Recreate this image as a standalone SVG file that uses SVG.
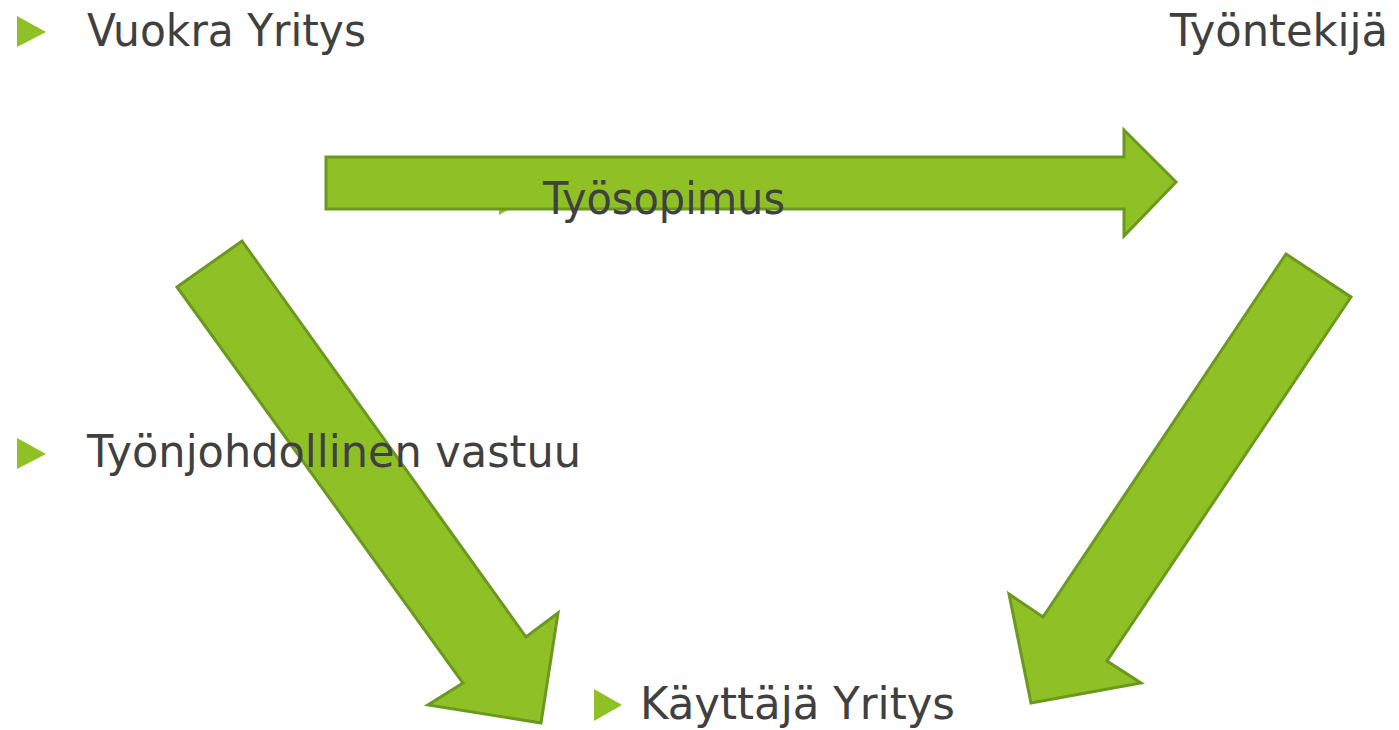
<svg xmlns="http://www.w3.org/2000/svg" width="1399" height="730" viewBox="0 0 1399 730">
<style>
.arrow{fill:#8fc026;stroke:#6b981e;stroke-width:3;stroke-linejoin:miter}
.bullet{fill:#8fc026}
.t{font-family:"DejaVu Sans","Liberation Sans",sans-serif;font-size:44px;fill:#404040}
</style>
<rect width="1399" height="730" fill="#ffffff"/>
<g id="bullet-tyosopimus"><polygon class="bullet" points="499,183 527,199 499,215"/></g>
<g id="connectors">
<polygon class="arrow" points="326,157 1124,157 1124,130 1176,182 1124,236 1124,209 326,209"/>
<polygon class="arrow" points="177,287 242,241 526,637 558,613 541,723 428,705 463,683"/>
<polygon class="arrow" points="1286,254 1351,297 1107,661 1141,683 1031,703 1009,594 1043,617"/>
</g>
<g id="node-vuokra">
<polygon class="bullet" points="17,16 46,32 17,47"/>
<text class="t" x="87" y="46" textLength="279" lengthAdjust="spacingAndGlyphs">Vuokra Yritys</text>
</g>
<g id="node-tyontekija">
<text class="t" x="1170" y="46" textLength="218" lengthAdjust="spacingAndGlyphs">Työntekijä</text>
</g>
<g id="label-tyosopimus">
<text class="t" x="543" y="214" textLength="242" lengthAdjust="spacingAndGlyphs">Työsopimus</text>
</g>
<g id="label-tyonjohdollinen">
<polygon class="bullet" points="17,438 46,454 17,469"/>
<text class="t" x="87" y="467" textLength="494" lengthAdjust="spacingAndGlyphs">Työnjohdollinen vastuu</text>
</g>
<g id="node-kayttaja">
<polygon class="bullet" points="594,689 622,705 594,721"/>
<text class="t" x="640" y="719" textLength="315" lengthAdjust="spacingAndGlyphs">Käyttäjä Yritys</text>
</g>
</svg>
